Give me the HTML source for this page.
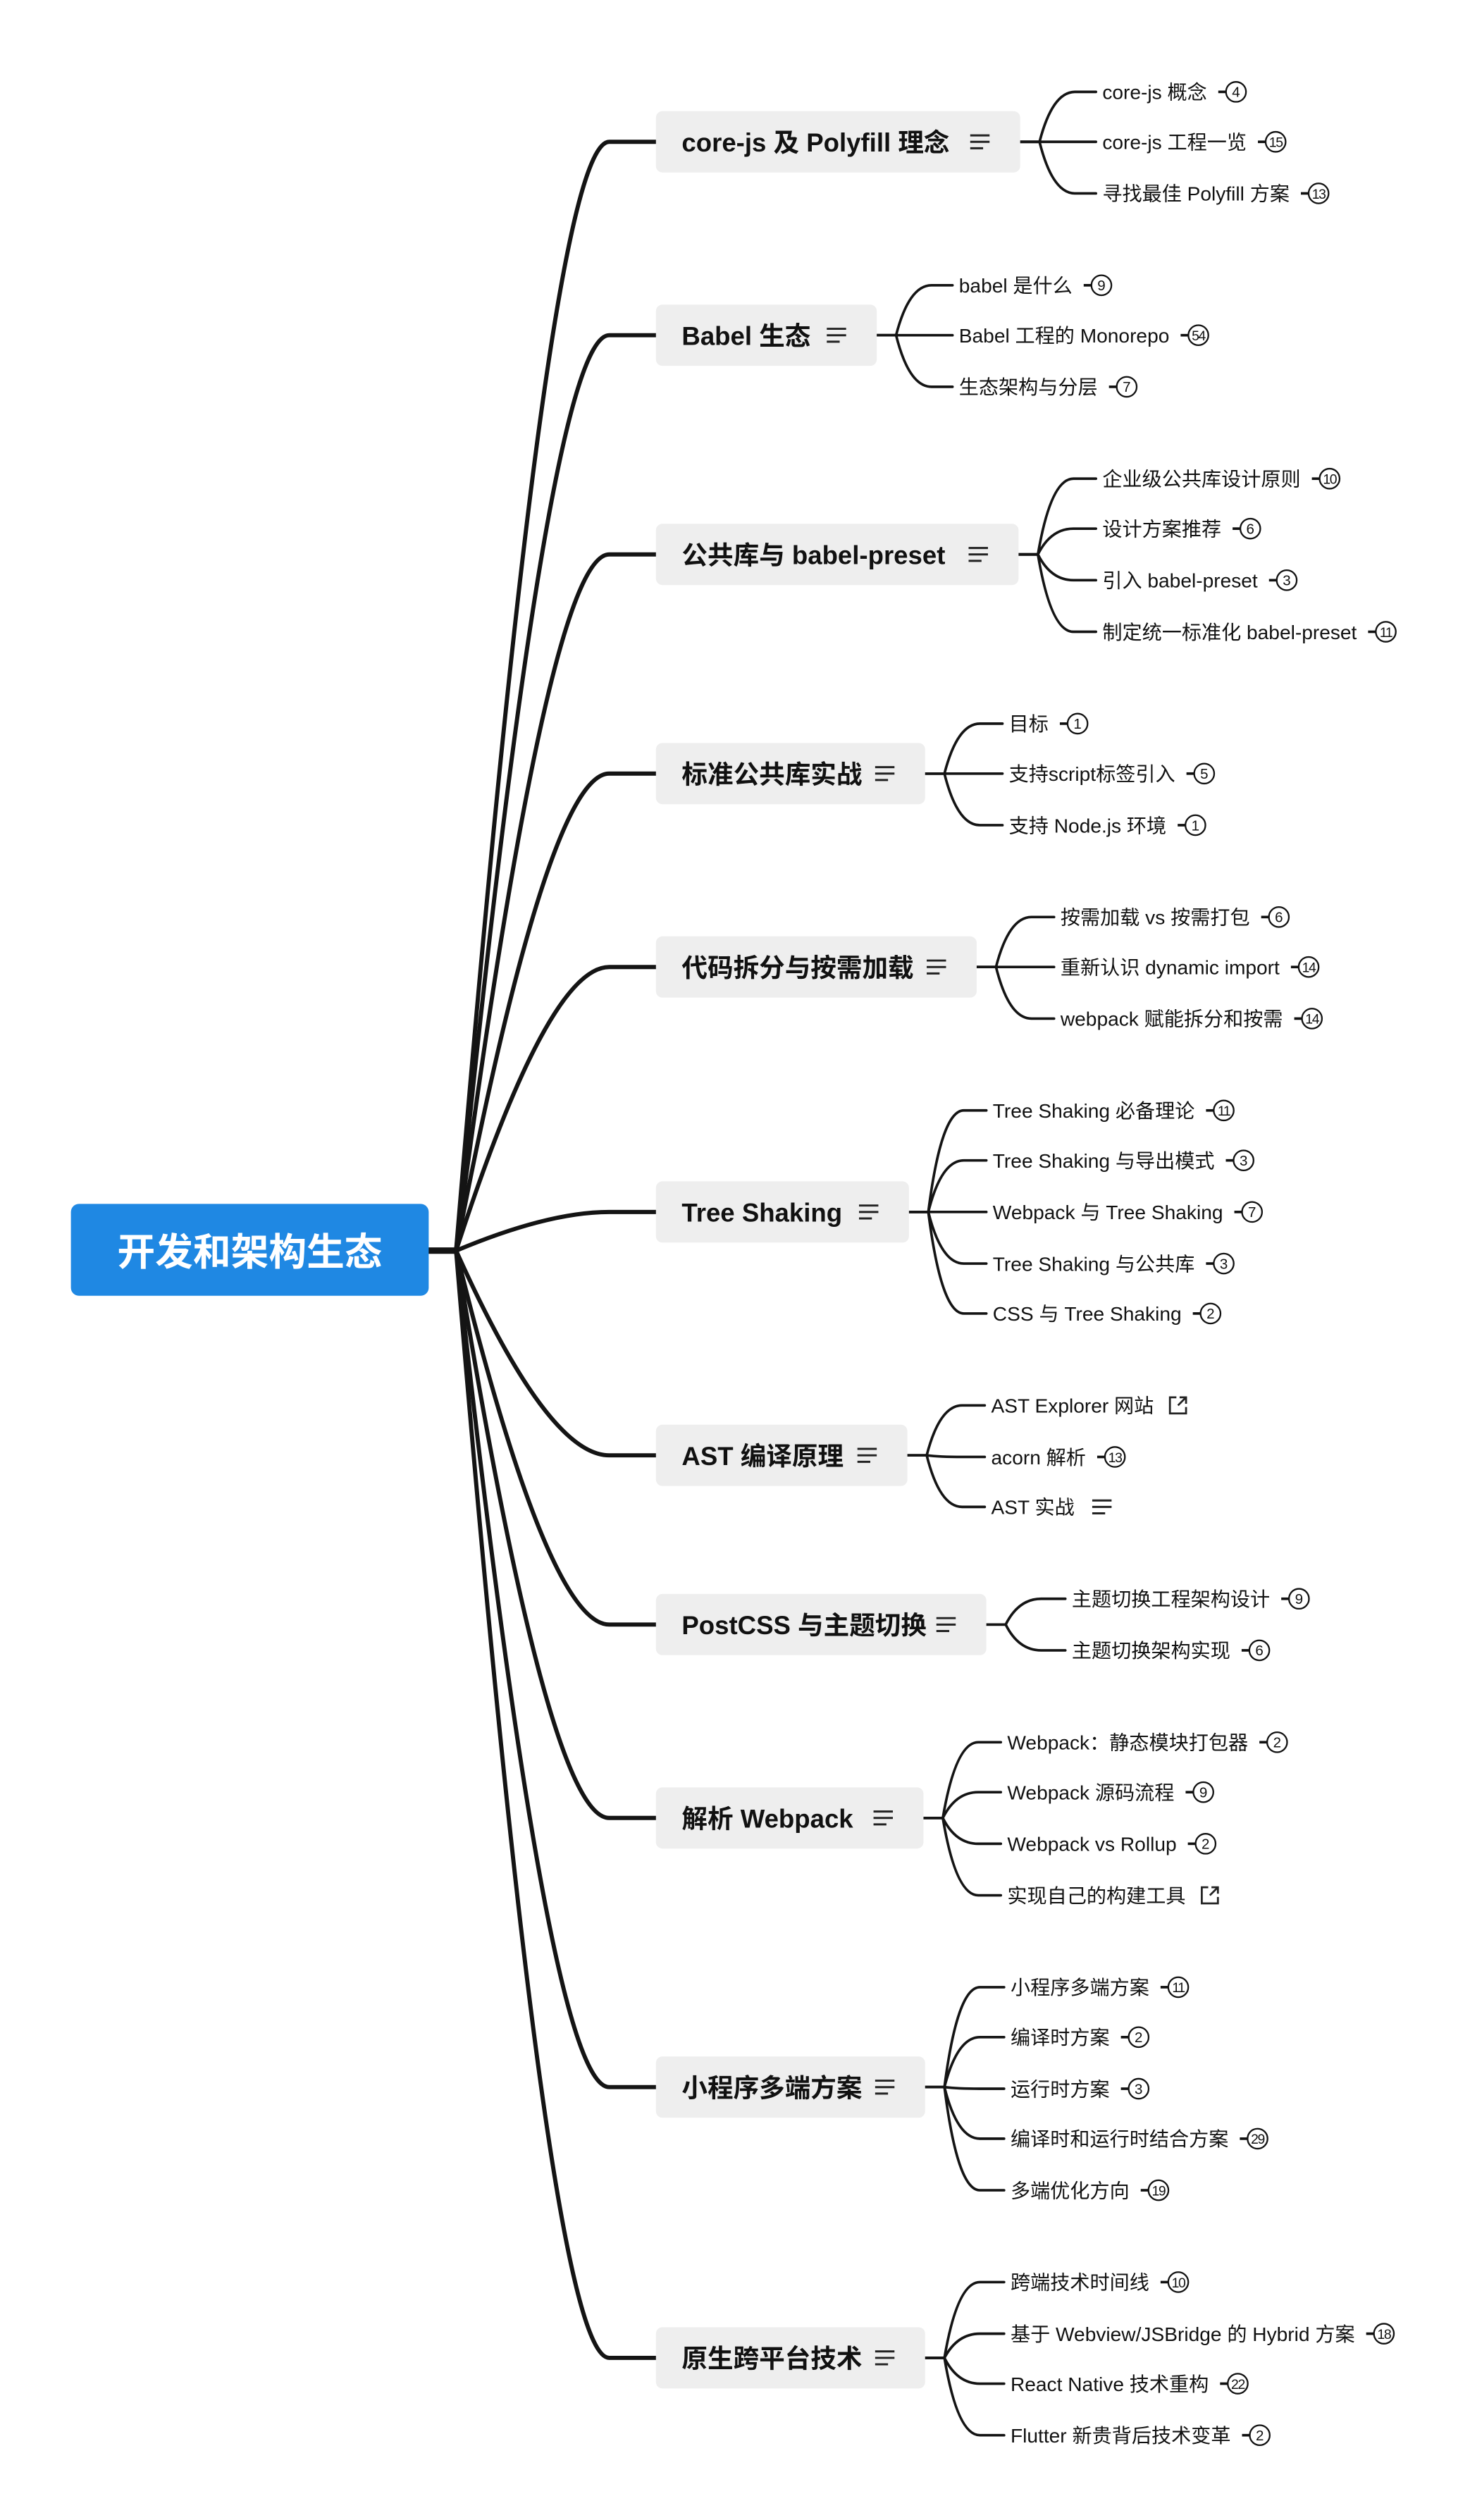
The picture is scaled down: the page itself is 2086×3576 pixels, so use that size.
<!DOCTYPE html>
<html><head><meta charset="utf-8">
<style>
html,body{margin:0;padding:0;background:#fff;}
svg{display:block;}
text{font-family:"Liberation Sans","Noto Sans CJK SC",sans-serif;}
</style></head>
<body>
<svg id="s" xmlns="http://www.w3.org/2000/svg" width="2086" height="3576" viewBox="0 0 912.1 1563.6">
<rect x="0" y="0" width="912.1" height="1563.6" fill="#fff"/>
<g id="lines" fill="none" stroke="#141414" stroke-linecap="round"></g>
<g id="nodes"></g>
</svg>
<script>
var NS="http://www.w3.org/2000/svg";
var L=document.getElementById('lines'),N=document.getElementById('nodes');
function el(p,t,a,txt){var e=document.createElementNS(NS,t);for(var k in a)e.setAttribute(k,a[k]);if(txt!=null)e.textContent=txt;p.appendChild(e);return e;}
var data=[
["core-js 及 Polyfill 理念",88,633,684,[["core-js 概念",57,"4"],["core-js 工程一览",88,"15"],["寻找最佳 Polyfill 方案",120,"13"]]],
["Babel 生态",208,544,595,[["babel 是什么",177,"9"],["Babel 工程的 Monorepo",208,"54"],["生态架构与分层",240,"7"]]],
["公共库与 babel-preset",344,632,684,[["企业级公共库设计原则",297,"10"],["设计方案推荐",328,"6"],["引入 babel-preset",360,"3"],["制定统一标准化 babel-preset",392,"11"]]],
["标准公共库实战",480,574,626,[["目标",449,"1"],["支持script标签引入",480,"5"],["支持 Node.js 环境",512,"1"]]],
["代码拆分与按需加载",600,606,658,[["按需加载 vs 按需打包",569,"6"],["重新认识 dynamic import",600,"14"],["webpack 赋能拆分和按需",632,"14"]]],
["Tree Shaking",752,564,616,[["Tree Shaking 必备理论",689,"11"],["Tree Shaking 与导出模式",720,"3"],["Webpack 与 Tree Shaking",752,"7"],["Tree Shaking 与公共库",784,"3"],["CSS 与 Tree Shaking",815,"2"]]],
["AST 编译原理",903,563,615,[["AST Explorer 网站",872,"L"],["acorn 解析",904,"13"],["AST 实战",935,"M"]]],
["PostCSS 与主题切换",1008,612,665,[["主题切换工程架构设计",992,"9"],["主题切换架构实现",1024,"6"]]],
["解析 Webpack",1128,573,625,[["Webpack：静态模块打包器",1081,"2"],["Webpack 源码流程",1112,"9"],["Webpack vs Rollup",1144,"2"],["实现自己的构建工具",1176,"L"]]],
["小程序多端方案",1295,574,627,[["小程序多端方案",1233,"11"],["编译时方案",1264,"2"],["运行时方案",1296,"3"],["编译时和运行时结合方案",1327,"29"],["多端优化方向",1359,"19"]]],
["原生跨平台技术",1463,574,627,[["跨端技术时间线",1416,"10"],["基于 Webview/JSBridge 的 Hybrid 方案",1448,"18"],["React Native 技术重构",1479,"22"],["Flutter 新贵背后技术变革",1511,"2"]]]
];
el(N,'rect',{x:44,y:747,width:222,height:57,rx:5,fill:'#1F88E3'});
el(N,'text',{x:155,y:785,'font-size':23.5,'font-weight':'bold',fill:'#fff','text-anchor':'middle'},'开发和架构生态');
el(L,'path',{d:'M266 776 H283','stroke-width':4});
function menu(x,y){el(N,'path',{d:'M'+x+' '+(y-4)+'h12M'+x+' '+y+'h12M'+x+' '+(y+4)+'h8',stroke:'#222','stroke-width':1.3,fill:'none'});}
function link(x,y){el(N,'path',{d:'M'+(x+4)+' '+(y-5)+'h-4v10h10v-4M'+(x+6)+' '+(y-5)+'h4v4M'+(x+10)+' '+(y-5)+'l-5 5',stroke:'#222','stroke-width':1.2,fill:'none'});}
data.forEach(function(b){
  var y=b[1],R=b[2],lx=b[3];
  el(L,'path',{d:'M283 776 Q340 '+y+' 378 '+y+' H407','stroke-width':2.6});
  el(N,'rect',{x:407,y:y-19,width:R-407,height:38,rx:4,fill:'#EEEEEE'});
  el(N,'text',{x:423,y:y+6,'font-size':16,'font-weight':'bold',fill:'#111'},b[0]);
  menu(R-31,y);
  b[4].forEach(function(l){
    var ly=l[1];
    var d='M'+R+' '+y+' H'+(R+12);
    if(Math.abs(ly-y)<1) d+=' H'+(lx-4);
    else d+=' Q'+(R+20)+' '+ly+' '+(R+34)+' '+ly+' H'+(lx-4);
    el(L,'path',{d:d,'stroke-width':1.6});
    var t=el(N,'text',{x:lx,y:ly+4.5,'font-size':12.3,fill:'#111'},l[0]);
    var w=t.getComputedTextLength();
    var ex=lx+w;
    if(l[2]=='L'){link(ex+10,ly);}
    else if(l[2]=='M'){menu(ex+11,ly);}
    else{
      el(N,'path',{d:'M'+(ex+7)+' '+ly+'h5',stroke:'#111','stroke-width':1.6,fill:'none'});
      el(N,'circle',{cx:ex+18,cy:ly,r:6.2,fill:'#fff',stroke:'#111','stroke-width':1});
      el(N,'text',{x:ex+18,y:ly+3.2,'font-size':l[2].length>1?8.5:9,fill:'#111','text-anchor':'middle','letter-spacing':l[2].length>1?-0.6:0},l[2]);
    }
  });
});
</script>
</body></html>
